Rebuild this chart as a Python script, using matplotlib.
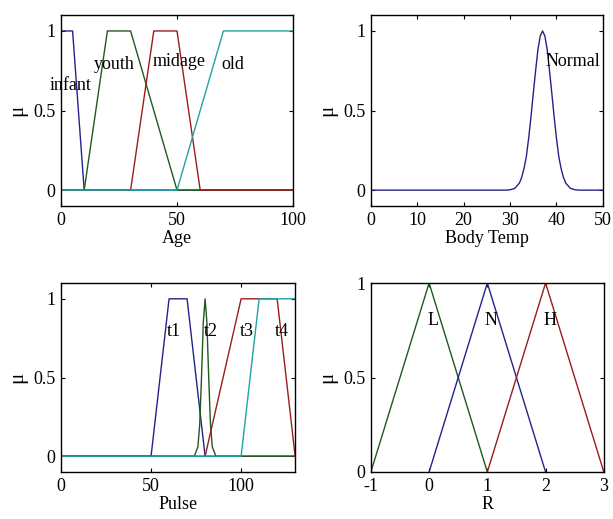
import numpy as np
import matplotlib
matplotlib.use("Agg")
import matplotlib.pyplot as plt

plt.rcParams.update({
    "font.family": "Liberation Serif",
    "font.size": 13,
    "axes.unicode_minus": False,
    "xtick.direction": "in",
    "ytick.direction": "in",
    "xtick.top": True,
    "ytick.right": True,
    "xtick.major.size": 3,
    "ytick.major.size": 3,
    "axes.linewidth": 1.0,
})

BLUE, GREEN, RED, CYAN = "#23238a", "#1f5a1f", "#9a1c1c", "#1fa3a3"

# Age membership functions (breakpoints)
age_infant_x = [0, 5, 10, 100]
age_infant_y = [1, 1, 0, 0]
age_youth_x = [0, 10, 20, 30, 50, 100]
age_youth_y = [0, 0, 1, 1, 0, 0]
age_midage_x = [0, 30, 40, 50, 60, 100]
age_midage_y = [0, 0, 1, 1, 0, 0]
age_old_x = [0, 50, 70, 100]
age_old_y = [0, 0, 1, 1]
age_labels = ["infant", "youth", "midage", "old"]
age_label_pos = [(4, 0.66), (23, 0.79), (51, 0.81), (74, 0.79)]

# Body temperature
temp_x = [0, 29, 30, 31, 32, 32.5, 33, 33.5, 34, 34.5, 35, 35.5, 36, 36.5, 37,
          37.5, 38, 38.5, 39, 39.5, 40, 40.5, 41, 41.5, 42, 43, 44, 45, 50]
temp_y = [0, 0, 0.002, 0.011, 0.044, 0.08, 0.135, 0.21, 0.325, 0.46, 0.607, 0.75,
          0.882, 0.969, 1.0, 0.969, 0.882, 0.75, 0.607, 0.46, 0.325, 0.21, 0.135,
          0.08, 0.044, 0.011, 0.002, 0, 0]

# Pulse membership functions
pulse_t1_x = [0, 50, 60, 70, 80, 130]
pulse_t1_y = [0, 0, 1, 1, 0, 0]
pulse_t2_x = [0, 74, 76, 77, 78, 79, 80, 81, 82, 83, 84, 86, 130]
pulse_t2_y = [0, 0, 0.06, 0.2, 0.5, 0.85, 1, 0.85, 0.5, 0.2, 0.06, 0, 0]
pulse_t3_x = [0, 80, 100, 120, 130]
pulse_t3_y = [0, 0, 1, 1, 0]
pulse_t4_x = [0, 100, 110, 130]
pulse_t4_y = [0, 0, 1, 1]
pulse_labels = ["t1", "t2", "t3", "t4"]
pulse_label_pos = [(62.5, 0.79), (83, 0.79), (103, 0.79), (122.5, 0.79)]

# R membership functions
r_L_x = [-1, 0, 1]
r_L_y = [0, 1, 0]
r_N_x = [0, 1, 2]
r_N_y = [0, 1, 0]
r_H_x = [1, 2, 3]
r_H_y = [0, 1, 0]
r_labels = ["L", "N", "H"]
r_label_pos = [(0.07, 0.8), (1.07, 0.8), (2.07, 0.8)]

fig = plt.figure(figsize=(6.13, 5.19), dpi=100)
ax1 = fig.add_axes([0.0995, 0.603, 0.3785, 0.368])
ax2 = fig.add_axes([0.605, 0.603, 0.3785, 0.368])
ax3 = fig.add_axes([0.0995, 0.0906, 0.382, 0.364])
ax4 = fig.add_axes([0.605, 0.0906, 0.380, 0.364])

lw = 1.0

# Age
ax1.plot(age_infant_x, age_infant_y, color=BLUE, lw=lw)
ax1.plot(age_youth_x, age_youth_y, color=GREEN, lw=lw)
ax1.plot(age_midage_x, age_midage_y, color=RED, lw=lw)
ax1.plot(age_old_x, age_old_y, color=CYAN, lw=lw)
for lab, (x, y) in zip(age_labels, age_label_pos):
    ax1.text(x, y, lab, ha="center", va="center")
ax1.set_xlim(0, 100)
ax1.set_ylim(-0.1, 1.1)
ax1.set_xticks([0, 50, 100])
ax1.set_xlabel("Age", labelpad=1)

# Body temp
ax2.plot(temp_x, temp_y, color=BLUE, lw=lw)
ax2.text(43.5, 0.81, "Normal", ha="center", va="center")
ax2.set_xlim(0, 50)
ax2.set_ylim(-0.1, 1.1)
ax2.set_xticks([0, 10, 20, 30, 40, 50])
ax2.set_xlabel("Body Temp", labelpad=1)

# Pulse
ax3.plot(pulse_t1_x, pulse_t1_y, color=BLUE, lw=lw)
ax3.plot(pulse_t2_x, pulse_t2_y, color=GREEN, lw=lw)
ax3.plot(pulse_t3_x, pulse_t3_y, color=RED, lw=lw)
ax3.plot(pulse_t4_x, pulse_t4_y, color=CYAN, lw=lw)
for lab, (x, y) in zip(pulse_labels, pulse_label_pos):
    ax3.text(x, y, lab, ha="center", va="center")
ax3.set_xlim(0, 130)
ax3.set_ylim(-0.1, 1.1)
ax3.set_xticks([0, 50, 100])
ax3.set_xlabel("Pulse", labelpad=1)

# R
ax4.plot(r_L_x, r_L_y, color=GREEN, lw=lw)
ax4.plot(r_N_x, r_N_y, color=BLUE, lw=lw)
ax4.plot(r_H_x, r_H_y, color=RED, lw=lw)
for lab, (x, y) in zip(r_labels, r_label_pos):
    ax4.text(x, y, lab, ha="center", va="center")
ax4.set_xlim(-1, 3)
ax4.set_ylim(0, 1)
ax4.set_xticks([-1, 0, 1, 2, 3])
ax4.set_xlabel("R", labelpad=1)

for ax in (ax1, ax2, ax3, ax4):
    ax.set_yticks([0, 0.5, 1])
    ax.set_yticklabels(["0", "0.5", "1"])
    ax.set_ylabel("μ", fontsize=15, labelpad=4)
    ax.tick_params(pad=4)

fig.savefig("out.png", dpi=100)
